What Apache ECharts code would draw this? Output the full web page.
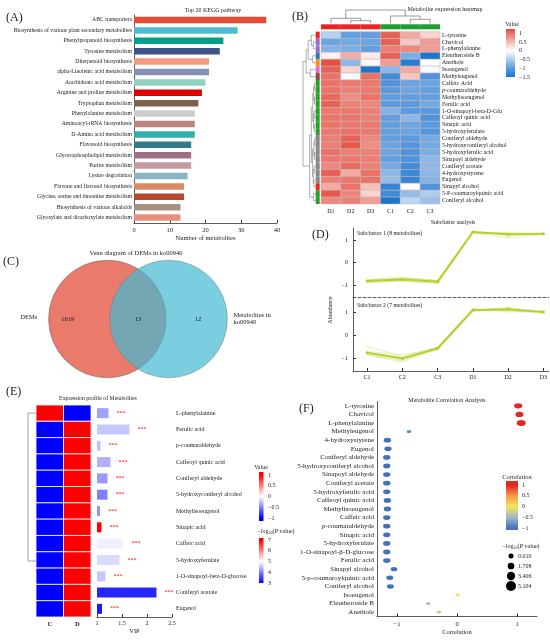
<!DOCTYPE html>
<html>
<head>
<meta charset="utf-8">
<script src="https://cdn.jsdelivr.net/npm/echarts@6.0.0/dist/echarts.min.js"></script>
<style>
html, body { margin: 0; padding: 0; background: #fff; }
#chart { width: 550px; height: 640px; }
</style>
</head>
<body>
<div id="chart"></div>
<script>
// ---------- (A) top 20 KEGG pathways ----------
const pathways = [
  'ABC transporters', 'Biosynthesis of various plant secondary metabolites', 'Phenylpropanoid biosynthesis',
  'Tyrosine metabolism', 'Diterpenoid biosynthesis', 'alpha-Linolenic acid metabolism', 'Arachidonic acid metabolism',
  'Arginine and proline metabolism', 'Tryptophan metabolism', 'Phenylalanine metabolism', 'Aminoacyl-tRNA biosynthesis',
  'D-Amino acid metabolism', 'Flavonoid biosynthesis', 'Glycerophospholipid metabolism', 'Purine metabolism',
  'Lysine degradation', 'Flavone and flavonol biosynthesis', 'Glycine, serine and threonine metabolism',
  'Biosynthesis of various alkaloids', 'Glyoxylate and dicarboxylate metabolism'
];
const pathwayCounts = [37, 29, 25, 24, 21, 21, 20, 19, 18, 17, 17, 17, 16, 16, 16, 15, 14, 14, 13, 13];
const pathwayColors = [
  '#E64B35', '#4DBBD5', '#00A087', '#3C5488', '#F39B7F', '#8491B4', '#91D1C2', '#DC0000', '#7E6148', '#CCCCCC',
  '#B8867F', '#2FB0AE', '#347B89', '#9E6F86', '#C49AA0', '#8AB3C4', '#D98A65', '#B5482E', '#A89080', '#E8907F'
];

// ---------- (B) metabolite heatmap ----------
const heatSamples = ['D1', 'D2', 'D3', 'C1', 'C2', 'C3'];
const heatNames = [
  'L-tyrosine', 'Chavicol', 'L-phenylalanine', 'Eleutheroside B', 'Anethole', 'Isoeugenol', 'Methyleugenol',
  'Caffeic Acid', 'p-coumaraldehyde', 'Methylisoeugenol', 'Ferulic acid', '1-O-sinapoyl-beta-D-Glu',
  'Caffeoyl quinic acid', 'Sinapic acid', '5-hydroxyferulate', 'Coniferyl aldehyde', '5-hydroxyconiferyl alcohol',
  '5-hydroxyferulic acid', 'Sinapoyl aldehyde', 'Coniferyl acetate', '4-hydroxystyrene', 'Eugenol',
  'Sinapyl alcohol', '5-P-coumaroylquinic acid', 'Coniferyl alcohol'
];
const heatValues = [
  [-0.45, -0.95, -0.95, 1.1, 0.6, 0.3],
  [-0.9, -0.85, -0.9, 1.1, 0.4, 0.7],
  [-0.75, -0.8, -0.95, 0.9, 0.85, 0.7],
  [0.1, 0.6, 0.15, 1.1, -0.8, -1.5],
  [1.2, -0.7, 0.05, 0.7, -1.4, 0.0],
  [1.1, 0.3, -1.6, -0.7, 0.6, -0.05],
  [1.0, -0.05, 1.0, -1.2, 0.4, -1.1],
  [1.0, 0.95, 0.95, -1.1, -0.9, -0.9],
  [1.0, 0.9, 0.95, -1.0, -0.9, -0.95],
  [1.05, 0.8, 1.0, -0.95, -0.95, -0.95],
  [1.1, 0.9, 0.85, -1.0, -1.0, -0.85],
  [0.95, 0.95, 0.9, -0.75, -1.0, -1.0],
  [1.0, 1.0, 0.9, -0.95, -0.7, -1.1],
  [1.0, 0.95, 0.95, -0.95, -0.9, -1.0],
  [0.95, 1.0, 0.95, -0.95, -0.9, -1.05],
  [0.9, 1.1, 0.85, -0.95, -1.0, -0.85],
  [0.9, 1.15, 0.8, -0.9, -1.05, -0.85],
  [1.0, 0.9, 0.9, -0.9, -1.1, -0.8],
  [0.95, 0.95, 0.9, -0.95, -1.1, -0.7],
  [0.85, 1.05, 0.9, -0.85, -1.2, -0.7],
  [1.1, 0.6, 1.0, -0.7, -1.25, -0.7],
  [0.9, 0.95, 1.0, -0.65, -1.3, -0.75],
  [0.6, 1.0, 0.45, -1.3, 0.0, -1.1],
  [1.15, 0.85, 0.3, -1.2, -0.65, -0.5],
  [0.85, 0.9, 0.7, -1.5, -0.4, -0.6]
];
const sampleGroup = [0, 0, 0, 1, 1, 1];
const rowGroup = [0, 1, 1, 2, 3, 4, 5, 6, 6, 6, 6, 6, 6, 6, 6, 7, 7, 7, 7, 7, 7, 7, 0, 6, 6];
// column dendrogram merges [a, b, height]; leaves 0..5
const colMerges = [[1, 2, 2.6], [4, 5, 4.0], [0, 6, 5.0], [3, 7, 7.3], [8, 9, 13.3]];
// row dendrogram merges; leaves 0..24
const rowMerges = [
  [1, 2, 1.0], [0, 25, 2.0], [3, 4, 1.5], [26, 27, 3.5], [5, 6, 2.5], [28, 29, 4.5],
  [7, 8, 0.5], [9, 10, 0.5], [11, 12, 0.6], [13, 14, 0.5], [15, 16, 0.4], [17, 18, 0.5],
  [19, 20, 0.6], [21, 22, 0.8], [23, 24, 0.9], [31, 32, 0.9], [33, 34, 0.9], [35, 36, 0.8],
  [37, 38, 1.1], [40, 41, 1.3], [42, 43, 1.4], [44, 45, 2.0], [46, 39, 2.8], [30, 47, 6.0]
];
const heatTicks = [1, 0.5, 0, -0.5, -1, -1.5];

// ---------- (C) Venn ----------
const vennSets = ['DEMs', 'Metabolites in\nko00940'];
const vennCounts = [1619, 13, 12]; // only DEMs, shared, only ko00940

// ---------- (D) subclusters ----------
const dSamples = ['C1', 'C2', 'C3', 'D1', 'D2', 'D3'];
const sub1Lines = [
  [-0.80, -0.70, -0.85, 1.38, 1.22, 1.25],
  [-0.90, -0.80, -0.95, 1.30, 1.28, 1.30],
  [-0.75, -0.65, -0.80, 1.40, 1.20, 1.28],
  [-0.85, -0.85, -0.90, 1.32, 1.10, 1.24],
  [-0.78, -0.72, -0.78, 1.36, 1.30, 1.30],
  [-0.88, -0.78, -0.88, 1.33, 1.26, 1.27],
  [-0.82, -0.70, -0.82, 1.36, 1.27, 1.26],
  [-0.80, -0.80, -0.82, 1.35, 1.32, 1.26]
];
const sub1Mean = [-0.82, -0.75, -0.85, 1.35, 1.25, 1.27];
const sub2Lines = [
  [-0.50, -0.90, -0.50, 1.15, 1.00, 1.05],
  [-0.80, -1.10, -0.60, 1.05, 1.20, 0.98],
  [-0.85, -1.05, -0.55, 1.10, 1.15, 1.00],
  [-0.75, -0.95, -0.65, 1.02, 1.10, 1.02],
  [-0.80, -1.00, -0.50, 1.12, 1.05, 0.95],
  [-0.70, -0.85, -0.58, 1.08, 1.18, 1.05],
  [-0.85, -1.15, -0.55, 1.10, 1.12, 0.98]
];
const sub2Mean = [-0.75, -1.0, -0.56, 1.09, 1.12, 1.0];
const dTicks = [-1, 0, 1];

// ---------- (E) expression profile ----------
const eSamples = ['C', 'D'];
const eNames = [
  'L-phenylalanine', 'Ferulic acid', 'p-coumaraldehyde', 'Caffeoyl quinic acid', 'Coniferyl aldehyde',
  '5-hydroxyconiferyl alcohol', 'Methylisoeugenol', 'Sinapic acid', 'Caffeic acid', '5-hydroxyferulate',
  '1-O-sinapoyl-beta-D-glucose', 'Coniferyl acetate', 'Eugenol'
];
const eValues = [[1, -1], [-1, 1], [-1, 1], [-1, 1], [-1, 1], [-1, 1], [-1, 1], [-1, 1], [-1, 1], [-1, 1], [-1, 1], [-1, 1], [-1, 1]];
const eVip = [1.23, 1.65, 1.07, 1.27, 1.21, 1.21, 1.06, 1.09, 1.53, 1.45, 1.17, 2.19, 1.10];
const ePval = [4.26, 4.56, 4.5, 4.38, 4.2, 4.0, 4.13, 7.0, 4.88, 4.72, 4.56, 3.3, 3.2];
const eMerges = [
  [1, 2, 0], [13, 3, 0], [14, 4, 0], [15, 5, 0], [16, 6, 0], [17, 7, 0], [18, 8, 0],
  [9, 10, 0], [20, 11, 0], [21, 12, 0], [19, 22, 0], [0, 23, 1]
];
const eValueTicks = [1, 0.5, 0, -0.5, -1];
const ePvalTicks = [7, 6, 5, 4, 3];

// ---------- (F) correlation ----------
const fNames = [
  'L-tyrosine', 'Chavicol', 'L-phenylalanine', 'Methyleugenol', '4-hydroxystyrene', 'Eugenol', 'Coniferyl aldehyde',
  '5-hydroxyconiferyl alcohol', 'Sinapoyl aldehyde', 'Coniferyl acetate', '5-hydroxyferulic acid', 'Caffeoyl quinic acid',
  'Methylisoeugenol', 'Caffeic acid', 'p-coumaraldehyde', 'Sinapic acid', '5-hydroxyferulate', '1-O-sinapoyl-\u03b2-D-glucose',
  'Ferulic acid', 'Sinapyl alcohol', '5-p-coumaroylquinic acid', 'Coniferyl alcohol', 'Isoeugenol', 'Eleutheroside B', 'Anethole'
];
const fCorr = [1.02, 1.04, 1.07, -0.80, -1.16, -1.15, -1.17, -1.17, -1.17, -1.17, -1.17, -1.16, -1.16,
  -1.17, -1.17, -1.17, -1.17, -1.17, -1.17, -1.05, -1.12, -1.11, 0.01, -0.48, -0.30];
const fPval = [4.3, 4.0, 5.1, 0.9, 3.4, 3.4, 3.4, 3.4, 3.4, 3.4, 3.4, 3.4, 3.4, 3.4, 3.4, 3.4, 3.4, 3.4, 3.4, 2.6, 3.0, 3.0, 0.7, 0.3, 0.2];
const fCorrTicks = [1, 0.5, 0, -0.5, -1];
const fSizeTicks = [0.010, 1.708, 3.406, 5.104];

// ---------- helpers ----------
const FONT = '"Liberation Serif", "DejaVu Serif", serif';
const INK = '#222';
const AXIS = '#333';

const hexRgb = h => [1, 3, 5].map(i => parseInt(h.slice(i, i + 2), 16));
const ramp = stops => v => {
  if (v <= stops[0][0]) return stops[0][1];
  const last = stops[stops.length - 1];
  if (v >= last[0]) return last[1];
  for (let i = 1; i < stops.length; i++) {
    if (v <= stops[i][0]) {
      const t = (v - stops[i - 1][0]) / (stops[i][0] - stops[i - 1][0]);
      const a = hexRgb(stops[i - 1][1]), b = hexRgb(stops[i][1]);
      return 'rgb(' + a.map((c, k) => Math.round(c + (b[k] - c) * t)).join(',') + ')';
    }
  }
};
const heatStops = [[-1.5, '#1C76D0'], [-1, '#5A9ADF'], [0, '#FFFFFF'], [1, '#EB7266'], [1.25, '#E2473B']];
const eStops = [[-1, '#0000FF'], [0, '#FFFFFF'], [1, '#FF0000']];
const pStops = [[3, '#0000FF'], [5, '#FFFFFF'], [7, '#FF0000']];
const fStops = [[-1, '#4472B8'], [-0.5, '#9FB6CB'], [0, '#F2E45A'], [0.5, '#F29A4A'], [1, '#E3281E']];
const heatColor = ramp(heatStops), eColor = ramp(eStops), pColor = ramp(pStops), fColor = ramp(fStops);
const groupColors = ['#EE2222', '#9B6BC8', '#2B7BBA', '#FF8C1A', '#E86AD0', '#8C4A3C', '#2AA02A', '#888888'];
const sampleColors = ['#EE2222', '#1E9E2E'];
const minus = v => String(v).replace('-', '\u2212');
const italP = v => v.indexOf('p-') === 0 ? '{i|p}-' + v.slice(2) : v;
const italRich = size => ({ i: { fontStyle: 'italic', fontFamily: FONT, fontSize: size, color: INK } });

const grid = [], xAxis = [], yAxis = [], series = [], graphic = [];
function panel(rect, xa, ya) {
  const i = grid.length;
  grid.push(Object.assign({ containLabel: false, outerBoundsMode: 'none' }, rect));
  xAxis.push(Object.assign({ gridIndex: i, splitLine: { show: false } }, xa));
  yAxis.push(Object.assign({ gridIndex: i, splitLine: { show: false } }, ya));
  return i;
}
const hidden = (min, max, extra) => Object.assign({ type: 'value', show: false, min, max }, extra || {});
const line = { show: true, onZero: false, lineStyle: { color: AXIS, width: 0.8 } };
const lbl = (size, extra) => Object.assign({ fontSize: size, fontFamily: FONT, color: INK }, extra || {});

function cells(g, data, colorOf, stroke, width) {
  return {
    type: 'custom', coordinateSystem: 'cartesian2d', xAxisIndex: g, yAxisIndex: g, data, silent: true,
    renderItem: (p, api) => {
      const c = api.coord([api.value(0), api.value(1)]);
      const s = api.size([1, 1]);
      return {
        type: 'rect',
        shape: { x: c[0] - s[0] / 2, y: c[1] - s[1] / 2, width: s[0], height: s[1] },
        style: { fill: colorOf(api.value(2)), stroke: stroke || null, lineWidth: stroke ? width : 0 }
      };
    }
  };
}

// merge list -> [posA, hA, posB, hB, h]
function dendroLinks(merges, n) {
  const pos = [], ht = [];
  for (let i = 0; i < n; i++) { pos[i] = i; ht[i] = 0; }
  return merges.map(([a, b, h], k) => {
    pos[n + k] = (pos[a] + pos[b]) / 2;
    ht[n + k] = h;
    return [pos[a], ht[a], pos[b], ht[b], h];
  }).filter(l => l[4] > 0);
}
function dendro(g, links, vertical, color, width) {
  return {
    type: 'custom', coordinateSystem: 'cartesian2d', xAxisIndex: g, yAxisIndex: g, data: links, silent: true,
    renderItem: (p, api) => {
      const pt = (pos, h) => vertical ? api.coord([pos, h]) : api.coord([h, pos]);
      const pa = api.value(0), ha = api.value(1), pb = api.value(2), hb = api.value(3), h = api.value(4);
      return {
        type: 'polyline',
        shape: { points: [pt(pa, ha), pt(pa, h), pt(pb, h), pt(pb, hb)] },
        style: { stroke: color, lineWidth: width, fill: null }
      };
    }
  };
}

function txt(x, y, text, size, align, extra) {
  const el = {
    type: 'text', x, y, silent: true,
    style: {
      text, fontSize: size, fontFamily: FONT, fill: INK,
      align: align || 'center', textAlign: align || 'center', verticalAlign: 'middle', textVerticalAlign: 'middle'
    }
  };
  if (extra) {
    Object.assign(el.style, extra.style || {});
    if (extra.rotation) el.rotation = extra.rotation;
  }
  return el;
}

function colorbar(x, y, w, h, vmin, vmax, stops, colorOf, ticks, labelX) {
  const off = v => Math.min(1, Math.max(0, (vmax - v) / (vmax - vmin)));
  const cs = [{ offset: 0, color: colorOf(vmax) }];
  stops.slice().reverse().forEach(s => { if (s[0] < vmax && s[0] > vmin) cs.push({ offset: off(s[0]), color: s[1] }); });
  cs.push({ offset: 1, color: colorOf(vmin) });
  graphic.push({
    type: 'rect', silent: true, shape: { x, y, width: w, height: h },
    style: { fill: new echarts.graphic.LinearGradient(0, 0, 0, 1, cs) }
  });
  ticks.forEach(t => graphic.push(txt(labelX, y + off(t) * h, minus(t), 6, 'left')));
}

const pTitle = (x, y, align) => txt(x, y, '{a|\u2212log}{s|10}{a|(}{i|P}{a| value)}', 6, align, {
  style: {
    rich: {
      a: { fontSize: 6, fontFamily: FONT, color: INK, lineHeight: 8 },
      s: { fontSize: 4, fontFamily: FONT, color: INK, lineHeight: 8, verticalAlign: 'bottom' },
      i: { fontSize: 6, fontFamily: FONT, color: INK, fontStyle: 'italic', lineHeight: 8 }
    }
  }
});

// ---------- (A) ----------
const gA = panel({ left: 134, top: 14.8, width: 143, height: 208 },
  {
    type: 'value', min: 0, max: 40, interval: 10, axisLine: line,
    axisTick: { show: true, inside: true, length: 3, lineStyle: { color: AXIS } },
    axisLabel: lbl(6.5, { margin: 4 }),
    name: 'Number of metabolites', nameLocation: 'middle', nameGap: 11, nameTextStyle: lbl(6.5)
  },
  {
    type: 'category', data: pathways, inverse: true, axisLine: line, axisTick: { show: false },
    axisLabel: lbl(5.7, { margin: 2, interval: 0 })
  });
series.push({
  type: 'bar', xAxisIndex: gA, yAxisIndex: gA, barWidth: 6.5, silent: true,
  data: pathwayCounts.map((v, i) => ({ value: v, itemStyle: { color: pathwayColors[i] } }))
});

// ---------- (B) ----------
const gB = panel({ left: 321, top: 31.7, width: 119, height: 172.3 },
  {
    type: 'category', data: heatSamples, axisLine: { show: false }, axisTick: { show: false },
    axisLabel: lbl(6, { margin: 4, interval: 0 })
  },
  {
    type: 'category', data: heatNames, inverse: true, position: 'right', axisLine: { show: false }, axisTick: { show: false },
    axisLabel: lbl(5.9, { margin: 2, interval: 0, formatter: italP, rich: italRich(5.9) })
  });
series.push(cells(gB, heatValues.flatMap((r, i) => r.map((v, j) => [j, i, v])), heatColor, '#c4b4b4', 0.5));

const gBc = panel({ left: 321, top: 24.3, width: 119, height: 5 },
  { type: 'category', data: heatSamples, show: false }, { type: 'category', data: ['group'], show: false });
series.push(cells(gBc, sampleGroup.map((g, j) => [j, 0, g]), g => sampleColors[g]));

const gBr = panel({ left: 315.7, top: 31.7, width: 4, height: 172.3 },
  { type: 'category', data: ['cluster'], show: false }, { type: 'category', data: heatNames, inverse: true, show: false });
series.push(cells(gBr, rowGroup.map((g, i) => [0, i, g]), g => groupColors[g]));

const gBdc = panel({ left: 321, top: 10, width: 119, height: 13.3 }, hidden(-0.5, 5.5), hidden(0, 13.3));
series.push(dendro(gBdc, dendroLinks(colMerges, heatSamples.length), true, '#555', 0.6));

const gBdr = panel({ left: 303, top: 31.7, width: 12.5, height: 172.3 },
  hidden(0, 6, { inverse: true }), hidden(-0.5, 24.5, { inverse: true }));
series.push(dendro(gBdr, dendroLinks(rowMerges, heatNames.length), false, '#777', 0.6));

// ---------- (C) Venn ----------
const gC = panel({ left: 47, top: 262, width: 182, height: 114 }, hidden(-1.517, 1.517), hidden(-0.95, 0.95));
const vennFill = [{ fill: '#EA7A6C', opacity: 1 }, { fill: 'rgb(65,185,211)', opacity: 0.7 }];
series.push({
  type: 'custom', coordinateSystem: 'cartesian2d', xAxisIndex: gC, yAxisIndex: gC, silent: true,
  data: [[-0.51, 0], [0.51, 0]],
  renderItem: (p, api) => {
    const c = api.coord([api.value(0), api.value(1)]);
    const s = api.size([1, 1]);
    const f = vennFill[p.dataIndex];
    return {
      type: 'circle', shape: { cx: c[0], cy: c[1], r: 0.98 * (s[0] + s[1]) / 2 },
      style: { fill: f.fill, opacity: f.opacity, stroke: '#6f6f6f', lineWidth: 0.6 }
    };
  }
});
const vennText = [
  { at: [-1.17, 0], text: String(vennCounts[0]), align: 'center' },
  { at: [0, 0], text: String(vennCounts[1]), align: 'center' },
  { at: [1.0, 0], text: String(vennCounts[2]), align: 'center' },
  { at: [-1.82, 0.03], text: vennSets[0], align: 'center' },
  { at: [1.59, 0], text: vennSets[1], align: 'left' }
];
series.push({
  type: 'custom', coordinateSystem: 'cartesian2d', xAxisIndex: gC, yAxisIndex: gC, silent: true, z: 5,
  data: vennText.map(t => t.at),
  renderItem: (p, api) => {
    const c = api.coord([api.value(0), api.value(1)]);
    const t = vennText[p.dataIndex];
    return {
      type: 'text', x: c[0], y: c[1],
      style: {
        text: t.text, fontSize: 6.5, fontFamily: FONT, fill: INK, lineHeight: 7.5,
        align: t.align, textAlign: t.align, verticalAlign: 'middle', textVerticalAlign: 'middle'
      }
    };
  }
});

// ---------- (D) ----------
const dY = (min, max) => ({
  type: 'value', min, max, axisLine: line,
  axisTick: { show: true, inside: true, length: 3, customValues: dTicks, lineStyle: { color: AXIS } },
  axisLabel: lbl(6, { customValues: dTicks, formatter: minus, margin: 5 })
});
const gD1 = panel({ left: 353, top: 228, width: 195.7, height: 69 },
  {
    type: 'value', min: -0.4, max: 5.15,
    axisLine: { show: true, onZero: false, lineStyle: { color: AXIS, width: 0.8, type: [3, 2] } },
    axisTick: { show: false }, axisLabel: { show: false }
  }, dY(-1.53, 1.53));
const gD2 = panel({ left: 353, top: 297, width: 195.7, height: 74 },
  {
    type: 'value', min: -0.4, max: 5.15, axisLine: line,
    axisTick: { show: true, inside: true, length: 3, customValues: [0, 1, 2, 3, 4, 5], lineStyle: { color: AXIS } },
    axisLabel: lbl(6, { customValues: [0, 1, 2, 3, 4, 5], formatter: v => dSamples[Math.round(v)], margin: 3 })
  }, dY(-1.54, 1.65));
const thin = (g, arr) => ({
  type: 'line', xAxisIndex: g, yAxisIndex: g, silent: true, symbol: 'none', z: 2,
  lineStyle: { color: '#D3E27C', width: 0.6, opacity: 0.9 }, data: arr.map((v, i) => [i, v])
});
const bold = (g, arr) => ({
  type: 'line', xAxisIndex: g, yAxisIndex: g, silent: true, symbol: 'circle', symbolSize: 3, z: 3,
  itemStyle: { color: '#B3CF2C' }, lineStyle: { color: '#B3CF2C', width: 1.8 }, data: arr.map((v, i) => [i, v])
});
sub1Lines.forEach(l => series.push(thin(gD1, l)));
series.push(bold(gD1, sub1Mean));
sub2Lines.forEach(l => series.push(thin(gD2, l)));
series.push(bold(gD2, sub2Mean));

// ---------- (E) ----------
const gE = panel({ left: 36, top: 405, width: 55, height: 212 },
  {
    type: 'category', data: eSamples, axisLine: { show: false }, axisTick: { show: false },
    axisLabel: lbl(6.5, { margin: 4, fontWeight: 'bold', interval: 0 })
  },
  { type: 'category', data: eNames, inverse: true, show: false });
series.push(cells(gE, eValues.flatMap((r, i) => r.map((v, j) => [j, i, v])), eColor, '#ffffff', 0.8));

const gEd = panel({ left: 28, top: 405, width: 8, height: 212 }, hidden(0, 1, { inverse: true }), hidden(-0.5, 12.5, { inverse: true }));
series.push(dendro(gEd, dendroLinks(eMerges, eNames.length), false, '#888', 0.8));

const gEv = panel({ left: 97, top: 405, width: 75, height: 212 },
  {
    type: 'value', min: 1, max: 2.5, interval: 0.5, axisLine: line,
    axisTick: { show: true, inside: true, length: 3, lineStyle: { color: AXIS } },
    axisLabel: lbl(6, { margin: 3 }),
    name: 'VIP', nameLocation: 'middle', nameGap: 11, nameTextStyle: lbl(6.5)
  },
  {
    type: 'category', data: eNames, inverse: true, position: 'right', axisLine: { show: false }, axisTick: { show: false },
    axisLabel: lbl(6, { margin: 4, interval: 0 })
  });
series.push({
  type: 'bar', xAxisIndex: gEv, yAxisIndex: gEv, barWidth: 10, silent: true,
  data: eVip.map((v, i) => ({ value: v, itemStyle: { color: pColor(ePval[i]) } })),
  label: { show: true, position: 'right', distance: 8, formatter: '***', color: '#FF0000', fontSize: 6, fontFamily: FONT }
});

// ---------- (F) ----------
const fSize = p => 4 + 5 * (p / fSizeTicks[fSizeTicks.length - 1]);
const gF = panel({ left: 377, top: 401.5, width: 160, height: 215 },
  {
    type: 'value', min: -1.333, max: 1.333, axisLine: line,
    axisTick: { show: true, inside: true, length: 3, customValues: [-1, 0, 1], lineStyle: { color: AXIS } },
    axisLabel: lbl(6.5, { customValues: [-1, 0, 1], formatter: minus, margin: 4 }),
    name: 'Correlation', nameLocation: 'middle', nameGap: 12, nameTextStyle: lbl(6.5)
  },
  {
    type: 'category', data: fNames, inverse: true, axisLine: line, axisTick: { show: false },
    axisLabel: lbl(7, { margin: 3, interval: 0, formatter: italP, rich: italRich(7) })
  });
series.push({
  type: 'scatter', xAxisIndex: gF, yAxisIndex: gF, silent: true,
  data: fCorr.map((v, i) => [v, i]),
  symbolSize: (val, p) => { const w = fSize(fPval[p.dataIndex]); return [w, w * 0.65]; },
  itemStyle: { color: p => fColor(fCorr[p.dataIndex]), opacity: 1 }
});

// ---------- titles and legends ----------
graphic.push(
  txt(6, 18, '(A)', 12, 'left'),
  txt(213, 10, 'Top 20 KEGG pathway', 6),
  txt(292, 17, '(B)', 12, 'left'),
  txt(445, 9, 'Metabolite expression heatmap', 6),
  txt(512, 24, 'Value', 6),
  txt(3, 262, '(C)', 12, 'left'),
  txt(136, 253, 'Venn diagram of DEMs in ko00940', 6.5),
  txt(312, 235, '(D)', 12, 'left'),
  txt(453, 222, 'Subcluster analysis', 5.8),
  txt(357, 233, 'Subcluster 1 (8 metabolites)', 5.8, 'left'),
  txt(357, 305, 'Subcluster 2 (7 metabolites)', 5.8, 'left'),
  txt(330, 310, 'Abundance', 6, 'center', { rotation: Math.PI / 2 }),
  txt(6, 392, '(E)', 12, 'left'),
  txt(98, 398, 'Expression profile of Metabolites', 5.8),
  txt(261, 467, 'Value', 6),
  pTitle(276, 531, 'center'),
  txt(299, 409, '(F)', 12, 'left'),
  txt(447, 400, 'Metabolite Correlation Analysis', 6),
  txt(517, 477, 'Correlation', 6.5),
  pTitle(521, 546, 'center')
);
colorbar(506, 29, 9, 48, -1.5, 1.25, heatStops, heatColor, heatTicks, 519);
colorbar(259, 472, 4.5, 49, -1.14, 1.14, eStops, eColor, eValueTicks, 268);
colorbar(259, 538, 4.5, 45, 3.0, 7.19, pStops, pColor, ePvalTicks, 268);
colorbar(506, 481, 12, 49, -1.09, 1.19, fStops, fColor, fCorrTicks, 522);
fSizeTicks.forEach((t, i) => {
  const y = 556 + i * 10;
  graphic.push({ type: 'circle', silent: true, shape: { cx: 511, cy: y, r: (fSize(t) + 1) / 2 }, style: { fill: '#000' } });
  graphic.push(txt(518, y, t.toFixed(3), 6, 'left'));
});

const chart = echarts.init(document.getElementById('chart'));
chart.setOption({
  backgroundColor: '#fff',
  animation: false,
  grid, xAxis, yAxis, series, graphic
});
</script>
</body>
</html>
